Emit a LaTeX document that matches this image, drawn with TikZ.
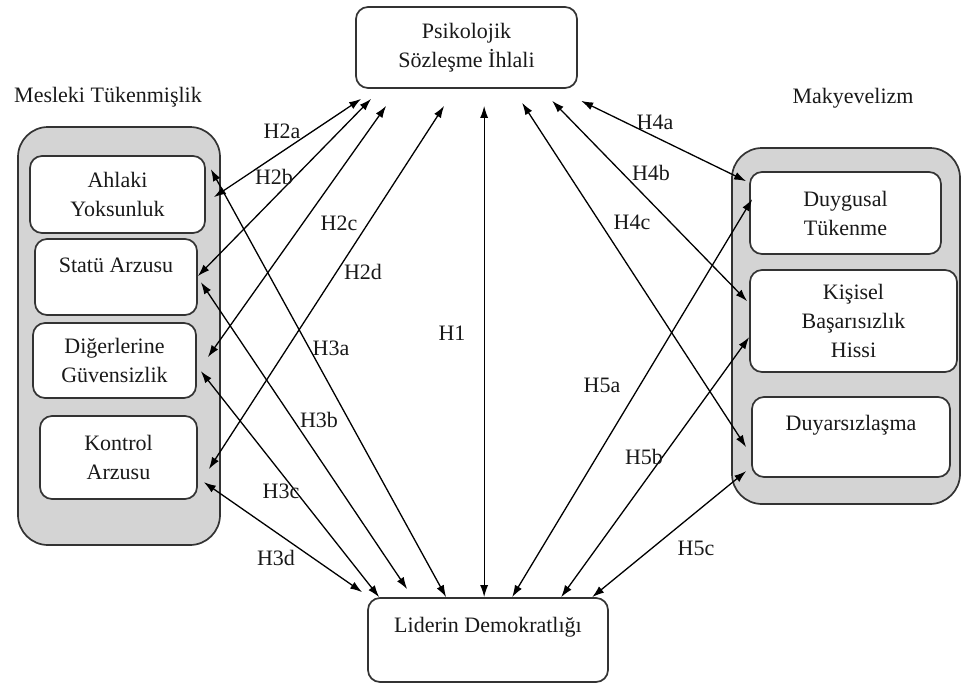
\documentclass[tikz,border=0pt]{standalone}
\usepackage{fontspec}
\setmainfont{Liberation Serif}
\usepackage{tikz}
\usetikzlibrary{arrows.meta}

\tikzset{
  box/.style={draw=black!80, line width=1.7, rounded corners=12, fill=white, inner sep=0, align=center},
  group/.style={draw=black!80, line width=1.7, rounded corners=30, fill=black!17, inner sep=0},
  link/.style={{Latex[length=12,width=8]}-{Latex[length=12,width=8]}, line width=1.3},
  every node/.style={font=\fontsize{22}{29}\selectfont, text=black!90}
}

\begin{document}
\begin{tikzpicture}[x=1pt, y=-1pt]
  \useasboundingbox (0,0) rectangle (963,686);

  % groups
  \node[group, minimum width=202, minimum height=418] (mesleki) at (119,336) {};
  \node[group, minimum width=228, minimum height=356] (makyev) at (846,326) {};
  \node (meslekit) at (108,97) {Mesleki Tükenmişlik};
  \node (makyevt) at (853,98) {Makyevelizm};

  % boxes
  \node[box, minimum width=221, minimum height=81] (psiko) at (466.5,47.5) {Psikolojik\\Sözleşme İhlali};
  \node[box, minimum width=240, minimum height=84] (lider) at (488,640) {};
  \node (lidert) at (488,627) {Liderin Demokratlığı};

  \node[box, minimum width=175, minimum height=77] (ahlaki) at (117.5,194.5) {Ahlaki\\Yoksunluk};
  \node[box, minimum width=162, minimum height=76] (statu) at (116,277) {};
  \node (statut) at (116,265) {Statü Arzusu};
  \node[box, minimum width=163, minimum height=75] (diger) at (114.5,360.5) {Diğerlerine\\Güvensizlik};
  \node[box, minimum width=157, minimum height=83] (kontrol) at (118.5,457.5) {Kontrol\\Arzusu};

  \node[box, minimum width=191, minimum height=82] (duygu) at (845.5,213) {Duygusal\\Tükenme};
  \node[box, minimum width=207, minimum height=102] (kisisel) at (853.5,321) {Kişisel\\Başarısızlık\\Hissi};
  \node[box, minimum width=198, minimum height=80] (duyars) at (851,437) {};
  \node (duyarst) at (851,425) {Duyarsızlaşma};

  % links to psikolojik sozlesme ihlali
  \draw[link] ([shift={(6,10)}]psiko.south west) -- ([shift={(8,42)}]ahlaki.north east);
  \draw[link] ([shift={(16,10)}]psiko.south west) -- ([shift={(0,38)}]statu.north east);
  \draw[link] ([shift={(31,17)}]psiko.south west) -- ([shift={(11,35)}]diger.north east);
  \draw[link] ([shift={(89,17)}]psiko.south west) -- ([shift={(11,54)}]kontrol.north east);
  \draw[link] ([shift={(129,17)}]psiko.south west) -- ([shift={(117,0)}]lider.north west);
  \draw[link] ([shift={(167,14)}]psiko.south west) -- ([shift={(-5,51)}]duyars.north west);
  \draw[link] ([shift={(197,12)}]psiko.south west) -- ([shift={(-2,32)}]kisisel.north west);
  \draw[link] ([shift={(226,12)}]psiko.south west) -- ([shift={(-3,10)}]duygu.north west);

  % links to liderin demokratligi
  \draw[link] ([shift={(5,14)}]ahlaki.north east) -- ([shift={(79,0)}]lider.north west);
  \draw[link] ([shift={(3,44)}]statu.north east) -- ([shift={(40,-8)}]lider.north west);
  \draw[link] ([shift={(4,49)}]diger.north east) -- ([shift={(12,0)}]lider.north west);
  \draw[link] ([shift={(6,67)}]kontrol.north east) -- ([shift={(-5,-5)}]lider.north west);
  \draw[link] ([shift={(3,28)}]duygu.north west) -- ([shift={(145,0)}]lider.north west);
  \draw[link] ([shift={(0,68)}]kisisel.north west) -- ([shift={(194,0)}]lider.north west);
  \draw[link] ([shift={(-5,75)}]duyars.north west) -- ([shift={(225,0)}]lider.north west);

  % hypothesis labels
  \node (h1) at (452,333) {H1};
  \node (h2a) at (282,131) {H2a};
  \node (h2b) at (274,177) {H2b};
  \node (h2c) at (339,223) {H2c};
  \node (h2d) at (363,272) {H2d};
  \node (h3a) at (331,348) {H3a};
  \node (h3b) at (319,420) {H3b};
  \node (h3c) at (281,491) {H3c};
  \node (h3d) at (276,558) {H3d};
  \node (h4a) at (655,122) {H4a};
  \node (h4b) at (651,173) {H4b};
  \node (h4c) at (632,222) {H4c};
  \node (h5a) at (602,385) {H5a};
  \node (h5b) at (644,457) {H5b};
  \node (h5c) at (696,548) {H5c};
\end{tikzpicture}
\end{document}
